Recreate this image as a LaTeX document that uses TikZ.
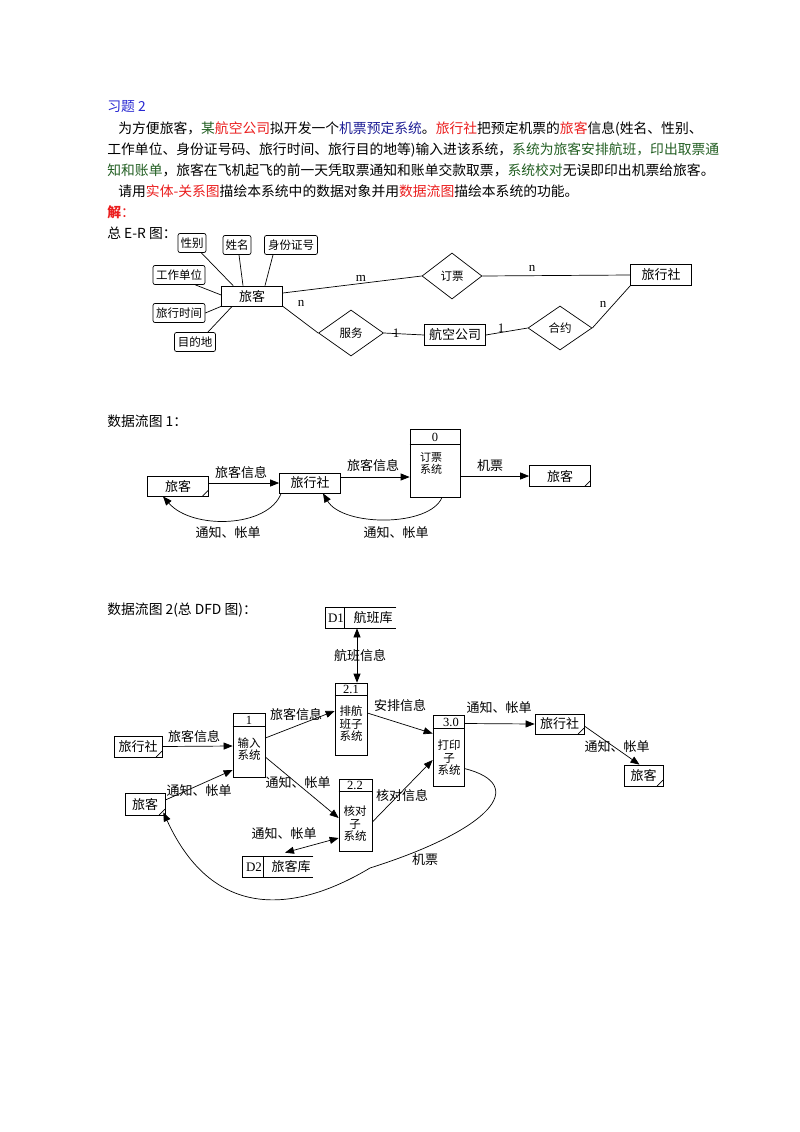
\documentclass[tikz,border=0pt]{standalone}
\usepackage{fontspec}
\setmainfont{Liberation Serif}
\newfontfamily\cjk{Noto Sans CJK SC}
\usetikzlibrary{arrows.meta,shapes.geometric}
\definecolor{qblue}{RGB}{40,40,210}
\definecolor{qred}{RGB}{235,30,30}
\definecolor{qgreen}{RGB}{35,95,35}
\definecolor{qnavy}{RGB}{30,30,150}
\begin{document}
\begin{tikzpicture}[x=1pt,y=-1pt,line width=0.7pt,
  para/.style={anchor=west,inner sep=0,text height=11pt,text depth=2.5pt,font=\cjk\fontsize{13.8}{16}\selectfont},
  box/.style={draw,inner sep=0,font=\cjk\fontsize{13}{15}\selectfont},
  attr/.style={draw,rounded corners=2pt,inner sep=0,minimum height=19pt,font=\cjk\fontsize{11.5}{12}\selectfont},
  rel/.style={draw,diamond,inner sep=0,font=\cjk\fontsize{11.5}{12}\selectfont},
  ext/.style={box,path picture={\draw ([xshift=-6pt]path picture bounding box.south east) -- ([yshift=6pt]path picture bounding box.south east);}},
  proc/.style={draw,inner sep=0},
  ptxt/.style={font=\cjk\fontsize{11.5}{12.5}\selectfont,align=center,inner sep=0},
  lbl/.style={font=\cjk\fontsize{13}{15}\selectfont,inner sep=0},
  card/.style={font=\fontsize{13}{15}\selectfont,inner sep=0},
  num/.style={font=\fontsize{12.5}{13}\selectfont,inner sep=0},
  arr/.style={-{Triangle[length=9pt,width=7pt]}},
  darr/.style={{Triangle[length=9pt,width=7pt]}-{Triangle[length=9pt,width=7pt]}}]
\fill[white] (0,0) rectangle (800,1132);
\useasboundingbox (0,0) rectangle (800,1132);

% ---------- text ----------
\node[para] (t0) at (107,107) {\color{qblue}习题 2};
\node[para] (t1) at (118,129) {为方便旅客，\textcolor{qgreen}{某}\textcolor{qred}{航空公司}拟开发一个\textcolor{qnavy}{机票预定系统}。\textcolor{qred}{旅行社}把预定机票的\textcolor{qred}{旅客}信息(姓名、性别、};
\node[para] (t2) at (107,150) {工作单位、身份证号码、旅行时间、旅行目的地等)输入进该系统，\textcolor{qgreen}{系统为旅客安排航班，印出取票通}};
\node[para] (t3) at (107,171) {\textcolor{qgreen}{知和账单}，旅客在飞机起飞的前一天凭取票通知和账单交款取票，\textcolor{qgreen}{系统校对}无误即印出机票给旅客。};
\node[para] (t4) at (118,192) {请用\textcolor{qred}{实体-关系图}描绘本系统中的数据对象并用\textcolor{qred}{数据流图}描绘本系统的功能。};
\node[para] (t5) at (107,213) {\color{qred}\textbf{解}：};
\node[para] (t6) at (107,234) {总 E-R 图：};

% ---------- E-R ----------
\node[box,minimum width=61,minimum height=20] (lk) at (252,296) {旅客};
\node[attr,minimum width=28] (a1) at (192,243) {性别};
\node[attr,minimum width=28] (a2) at (237,245) {姓名};
\node[attr,minimum width=53] (a3) at (291,245) {身份证号};
\node[attr,minimum width=52] (a4) at (179,275) {工作单位};
\node[attr,minimum width=52] (a5) at (179,313) {旅行时间};
\node[attr,minimum width=41] (a6) at (195,342) {目的地};
\draw ([xshift=-5pt]a1.south east) -- ([xshift=12pt]lk.north west);
\draw ([xshift=2pt]a2.south) -- ([xshift=-9pt]lk.north);
\draw ([xshift=-18pt]a3.south) -- ([xshift=13pt]lk.north);
\draw ([xshift=-10pt]a4.south east) -- ([yshift=1pt]lk.west);
\draw (a5.east) -- (lk.south west);
\draw ([xshift=-8pt]a6.north east) -- ([xshift=11pt]lk.south west);

\node[rel,minimum width=60,minimum height=46] (dp) at (452,276) {订票};
\node[rel,minimum width=65,minimum height=46] (fw) at (351,333) {服务};
\node[rel,minimum width=64,minimum height=44] (hy) at (560,328) {合约};
\node[box,minimum width=61,minimum height=21] (lxs) at (661,275) {旅行社};
\node[box,minimum width=61,minimum height=21] (hk) at (455,335) {航空公司};
\draw ([yshift=3pt]lk.east) -- (dp.west);
\draw (dp.east) -- (lxs.west);
\draw (lk.south east) -- (fw.west);
\draw (fw.east) -- (hk.west);
\draw (hk.east) -- (hy.west);
\draw (hy.east) -- (lxs.south west);
\node[card] (c1) at (361,278) {m};
\node[card] (c2) at (532,268) {n};
\node[card] (c3) at (301,303) {n};
\node[card] (c4) at (396,333) {1};
\node[card] (c5) at (501,328) {1};
\node[card] (c6) at (603,304) {n};

% ---------- DFD 1 ----------
\node[para] (h1) at (107,422) {数据流图 1：};
\node[ext,minimum width=61,minimum height=20] (e1) at (178,486) {旅客};
\node[box,minimum width=61,minimum height=20] (b1) at (310,483) {旅行社};
\node[proc,minimum width=50,minimum height=68] (p0) at (435,463) {};
\draw ([yshift=-16pt]p0.north west) -- ([yshift=-16pt]p0.north east);
\node[num] (p0n) at (435,437) {0};
\node[ptxt,font=\cjk\fontsize{11}{12}\selectfont] (p0t) at (431,463) {订票\\系统};
\node[ext,minimum width=61,minimum height=21] (e2) at (560,476) {旅客};
\draw[arr] ([yshift=3pt]e1.east) -- (b1.west);
\draw[arr] ([yshift=6pt]b1.east) -- ([yshift=-14pt]p0.west);
\draw[arr] ([yshift=-13pt]p0.east) -- (e2.west);
\draw[arr] ([xshift=2pt]b1.south west) .. controls (268,528) and (192,530) .. ([xshift=-15pt]e1.south);
\draw[arr] ([xshift=7pt]p0.south) .. controls (430,527) and (343,527) .. ([xshift=13pt]b1.south);
\node[lbl] (l11) at (241,473) {旅客信息};
\node[lbl] (l12) at (373,466) {旅客信息};
\node[lbl] (l13) at (490,466) {机票};
\node[lbl] (l14) at (228,533) {通知、帐单};
\node[lbl] (l15) at (396,533) {通知、帐单};

% ---------- DFD 2 ----------
\node[para] (h2) at (107,610) {数据流图 2(总 DFD 图)：};
% data store D1
\node[minimum width=70,minimum height=20,inner sep=0] (d1) at (361,618) {};
\draw (d1.north east) -- (d1.north west) -- (d1.south west) -- (d1.south east);
\draw ([xshift=19pt]d1.north west) -- ([xshift=19pt]d1.south west);
\node[num,font=\fontsize{13}{14}\selectfont] (d1a) at (336,618) {D1};
\node[lbl] (d1b) at (373,618) {航班库};
% data store D2
\node[minimum width=70,minimum height=20,inner sep=0] (d2) at (278,867) {};
\draw (d2.north east) -- (d2.north west) -- (d2.south west) -- (d2.south east);
\draw ([xshift=21pt]d2.north west) -- ([xshift=21pt]d2.south west);
\node[num,font=\fontsize{13}{14}\selectfont] (d2a) at (254,867) {D2};
\node[lbl] (d2b) at (291,867) {旅客库};
% processes
\node[proc,minimum width=32,minimum height=72] (p21) at (351,719) {};
\draw ([yshift=-13pt]p21.north west) -- ([yshift=-13pt]p21.north east);
\node[num] (p21n) at (351,689) {2.1};
\node[ptxt] (p21t) at (351,724) {排航\\班子\\系统};
\node[proc,minimum width=32,minimum height=64] (p1) at (249,745) {};
\draw ([yshift=-14pt]p1.north west) -- ([yshift=-14pt]p1.north east);
\node[num] (p1n) at (249,720) {1};
\node[ptxt] (p1t) at (249,749) {输入\\系统};
\node[proc,minimum width=33,minimum height=72] (p22) at (355.5,815) {};
\draw ([yshift=-13pt]p22.north west) -- ([yshift=-13pt]p22.north east);
\node[num] (p22n) at (355,785) {2.2};
\node[ptxt] (p22t) at (355,824) {核对\\子\\系统};
\node[proc,minimum width=31,minimum height=71] (p30) at (448.5,750.5) {};
\draw ([yshift=-14pt]p30.north west) -- ([yshift=-14pt]p30.north east);
\node[num] (p30n) at (451,722) {3.0};
\node[ptxt] (p30t) at (449,758) {打印\\子\\系统};
% externals
\node[ext,minimum width=48,minimum height=21] (e3) at (138,746.5) {旅行社};
\node[ext,minimum width=40,minimum height=22] (e4) at (145,804) {旅客};
\node[ext,minimum width=49,minimum height=20] (e5) at (559.5,724) {旅行社};
\node[ext,minimum width=39,minimum height=21] (e6) at (643.5,775.5) {旅客};
% flows
\draw[darr] ([xshift=-4pt]d1.south) -- ([xshift=6pt]p21.north);
\draw[arr] (e3.east) -- ([yshift=-1pt]p1.west);
\draw[arr] ([yshift=4pt]e4.east) -- ([yshift=-25pt]p1.west);
\draw[arr] ([yshift=7pt]p1.east) -- ([yshift=8pt]p21.west);
\draw[arr] ([yshift=-12pt]p1.east) -- ([yshift=-3pt]p22.west);
\draw[arr] ([yshift=-7pt]p22.east) -- ([yshift=-9.5pt]p30.west);
\draw[darr] ([yshift=-23pt]p22.west) -- ([xshift=7pt,yshift=4pt]d2.north);
\draw[arr] ([yshift=6pt]p21.east) -- ([yshift=17pt]p30.west);
\draw[arr] ([yshift=27pt]p30.east) -- (e5.west);
\draw[arr] ([yshift=-2pt]e5.east) -- ([xshift=-4pt]e6.north);
\draw[arr] ([yshift=-18pt]p30.east) .. controls (530,785) and (490,830) .. (370,868)
  .. controls (300,910) and (215,925) .. ([xshift=-2pt,yshift=3pt]e4.south east);
\node[lbl] (l21) at (360,656) {航班信息};
\node[lbl] (l22) at (194,737) {旅客信息};
\node[lbl] (l23) at (199,791) {通知、帐单};
\node[lbl] (l24) at (296,715) {旅客信息};
\node[lbl] (l25) at (298,783) {通知、帐单};
\node[lbl] (l26) at (402,796) {核对信息};
\node[lbl] (l27) at (284,834) {通知、帐单};
\node[lbl] (l28) at (400,706) {安排信息};
\node[lbl] (l29) at (499,708) {通知、帐单};
\node[lbl] (l30) at (617,747) {通知、帐单};
\node[lbl] (l31) at (425,860) {机票};
\end{tikzpicture}
\end{document}
